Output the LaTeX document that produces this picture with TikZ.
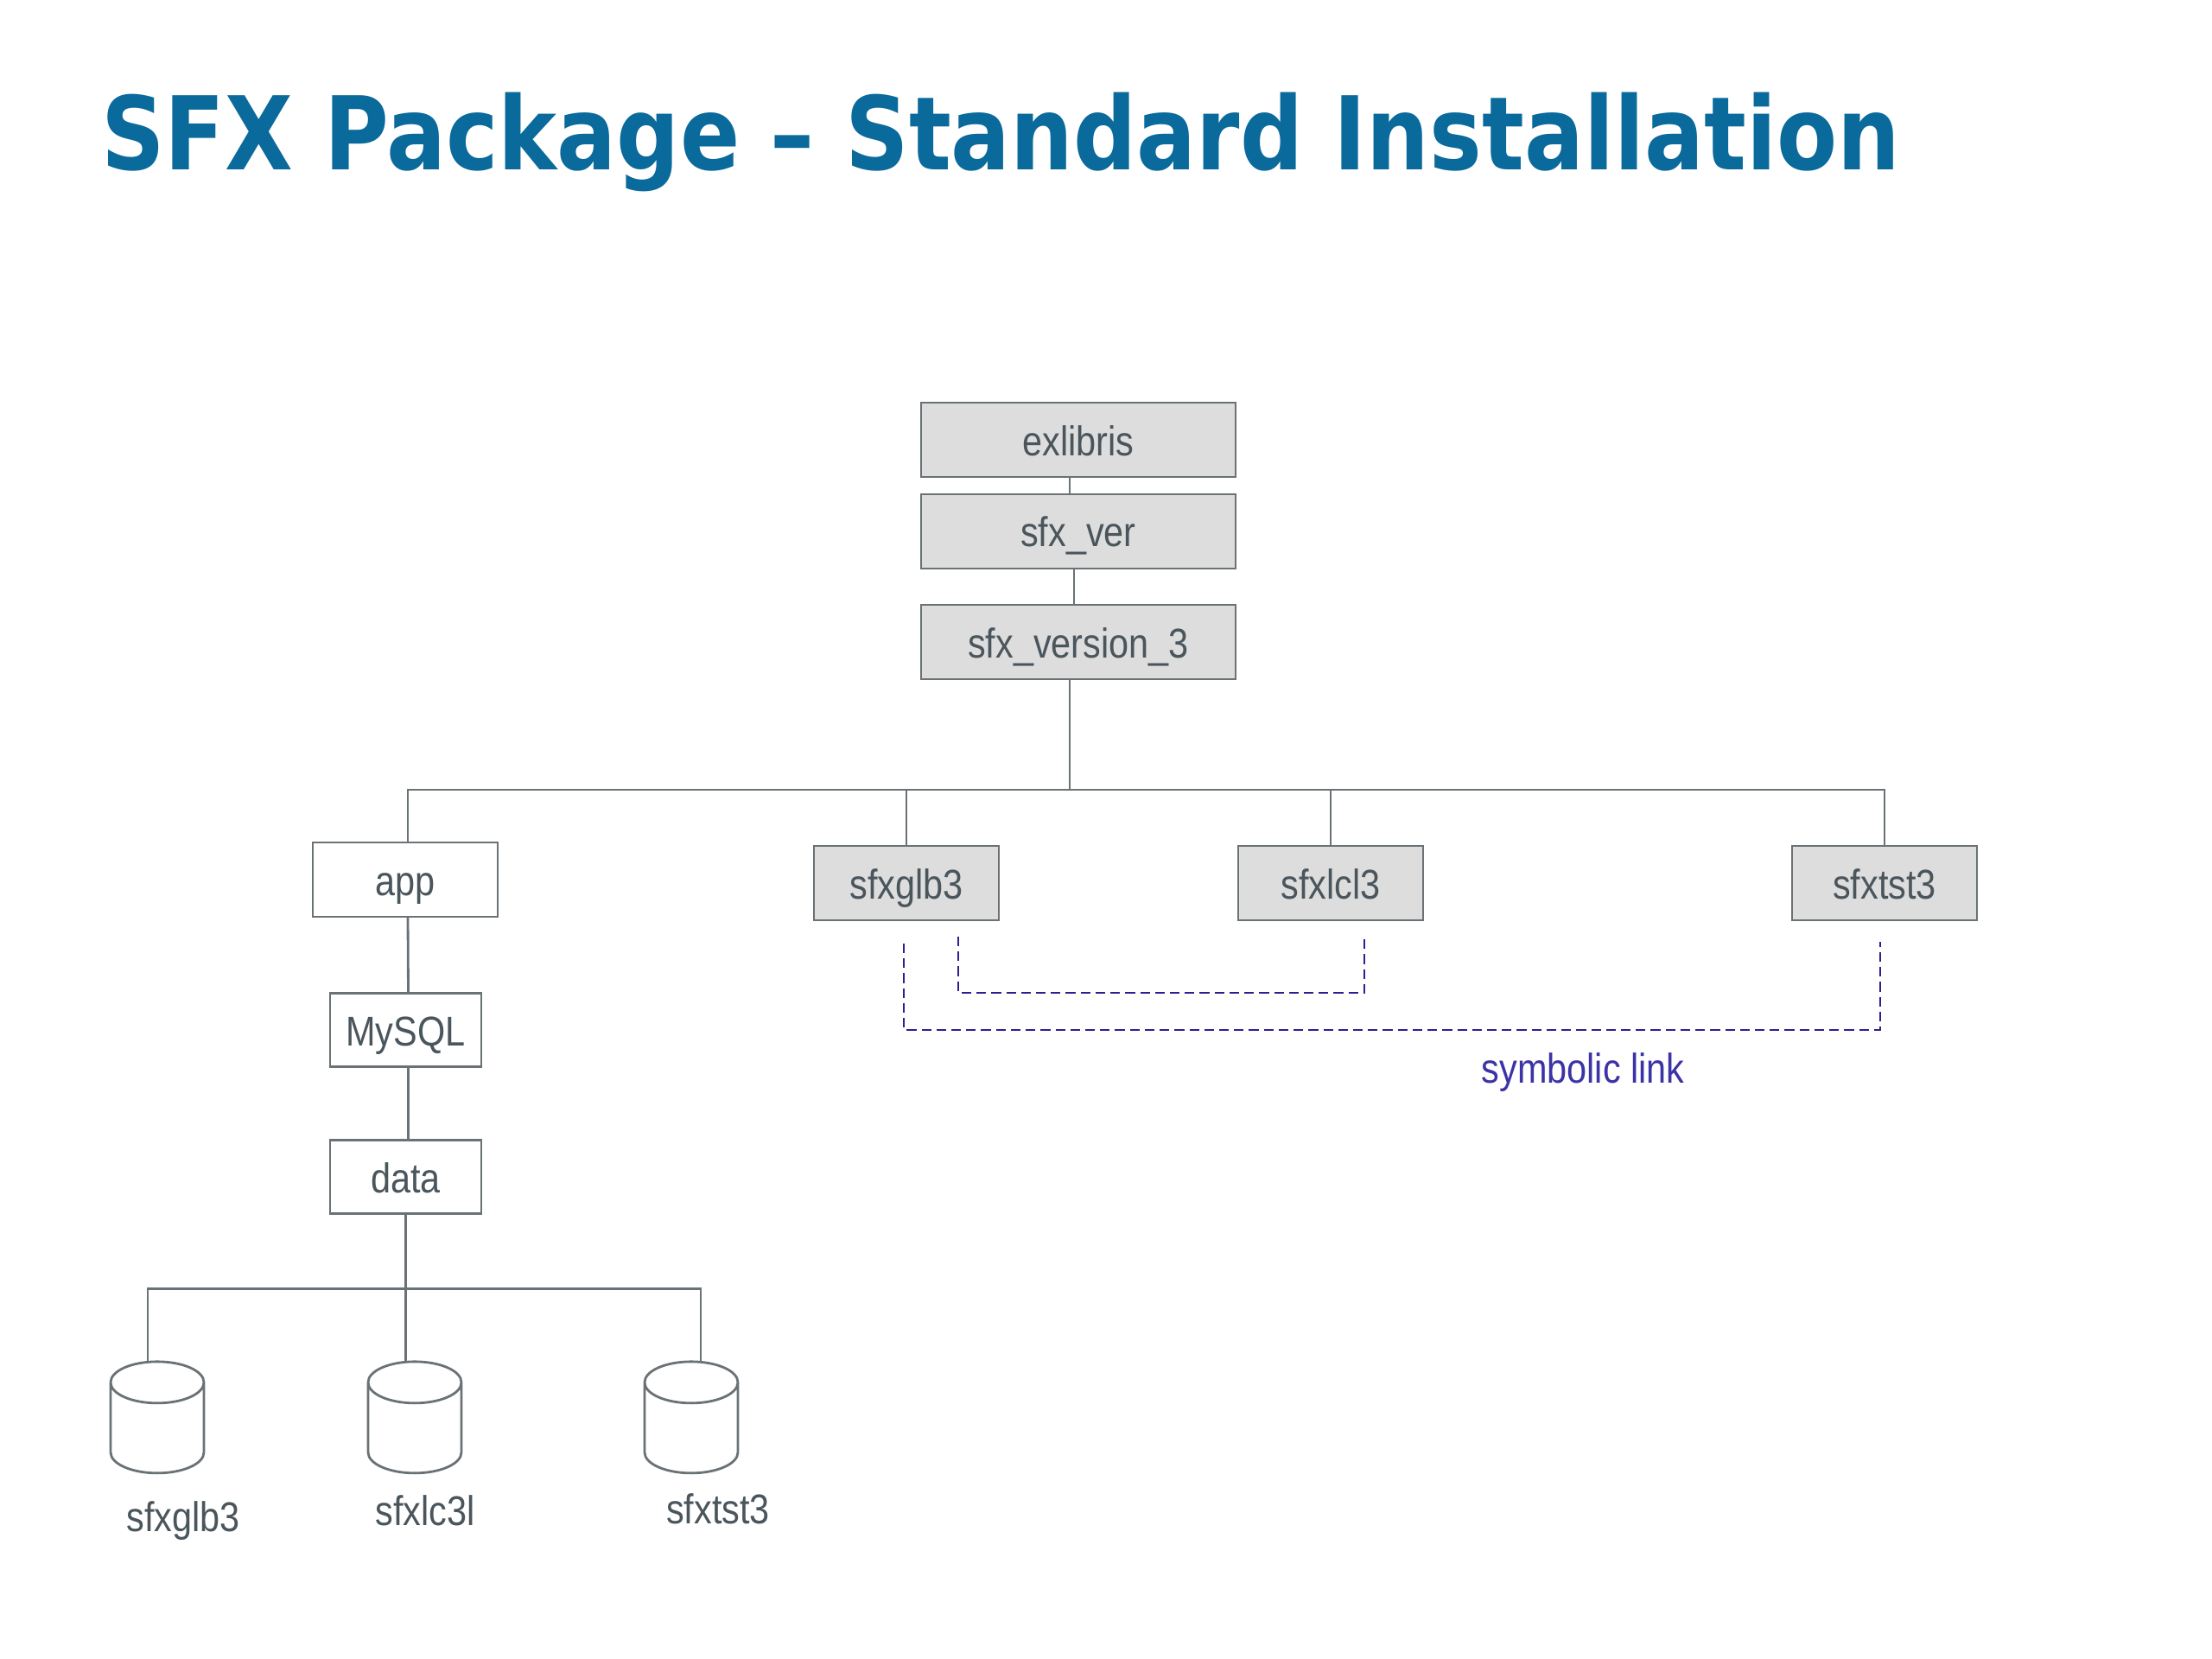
\documentclass[tikz,border=0pt]{standalone}
\usepackage{fontspec}
\usepackage{xcolor}
\setmainfont[FakeStretch=0.86]{Liberation Sans}
\newfontfamily\titlefont[FakeStretch=0.868]{DejaVu Sans}
\usetikzlibrary{shapes.geometric,positioning,calc}
\definecolor{titleblue}{HTML}{0A6A9B}
\definecolor{inkgray}{HTML}{4A555C}
\definecolor{linegray}{HTML}{6A7276}
\definecolor{boxgray}{HTML}{DDDDDD}
\definecolor{linkblue}{HTML}{2A2090}
\definecolor{labelblue}{HTML}{3B33A6}

\begin{document}
\begin{tikzpicture}[line width=0.8pt,node distance = 0.2cm]
\tikzstyle{dirbox}=[draw=linegray,text=inkgray,font=\fontsize{13.7}{16}\selectfont,text height=0.36cm,text depth=0cm,inner sep=0pt,outer sep=0pt]
\tikzstyle{shaded}=[fill=boxgray]
\tikzstyle{wide}=[minimum width=3.64cm,minimum height=0.86cm]
\tikzstyle{mid}=[minimum width=2.14cm,minimum height=0.86cm]
\tikzstyle{small}=[minimum width=1.75cm,minimum height=0.85cm]
\tikzstyle{disk}=[cylinder,shape border rotate=90,shape aspect=2.4,draw=linegray,minimum width=1.08cm,minimum height=1.29cm,inner sep=0.1cm,outer sep=0pt]
\tikzstyle{disklabel}=[text=inkgray,font=\fontsize{13.7}{16}\selectfont,anchor=base]
\tikzstyle{tree}=[draw=linegray]
\tikzstyle{symlink}=[draw=linkblue,dash pattern=on 3.2pt off 1.7pt]

\useasboundingbox (0,0) rectangle (25.6,-19.2);

\node[anchor=base west,text=titleblue,inner sep=0pt,font=\titlefont\bfseries\fontsize{33.5}{40}\selectfont] (title) at (1.16,-1.97) {SFX Package – Standard Installation};

% top of the tree
\node[dirbox,shaded,wide] (exlibris) at (12.48,-5.09) {exlibris};
\node[dirbox,shaded,wide] (sfxver) [below=of exlibris] {sfx\_ver};
\node[dirbox,shaded,wide] (sfxversion) [below=0.42cm of sfxver] {sfx\_version\_3};

\node[dirbox,shaded,mid] (sfxglb) at (10.49,-10.22) {sfxglb3};
\node[dirbox,shaded,mid] (sfxlcl) at (15.40,-10.22) {sfxlcl3};
\node[dirbox,shaded,mid] (sfxtst) at (21.81,-10.22) {sfxtst3};

% left column
\node[dirbox,mid] (app) at (4.69,-10.18) {app};
\node[dirbox,small] (mysql) at (4.695,-11.92) {MySQL};
\node[dirbox,small] (data) at (4.695,-13.62) {data};

\node[disk] (diskglb) at (1.82,-16.60) {};
\node[disk] (disklcl) at (4.80,-16.60) {};
\node[disk] (disktst) at (8.00,-16.60) {};

\node[disklabel] (labelglb) at (2.12,-17.72) {sfxglb3};
\node[disklabel] (labellcl) at (4.92,-17.65) {sfxlc3l};
\node[disklabel] (labeltst) at (8.31,-17.63) {sfxtst3};

\coordinate (bus) at ([xshift=-0.10cm,yshift=-1.28cm]sfxversion.south);
\coordinate (lowbus) at ([yshift=-0.87cm]data.south);

\draw[tree] ([xshift=-0.10cm]exlibris.south) -- ([xshift=-0.10cm]sfxver.north);
\draw[tree] ([xshift=-0.05cm]sfxver.south) -- ([xshift=-0.05cm]sfxversion.north);
\draw[tree] ([xshift=-0.10cm]sfxversion.south) -- (bus);
\draw[tree] ([xshift=0.03cm]app.north) |- (bus) -| (sfxtst.north);
\draw[tree] (sfxglb.north) -- (sfxglb.north |- bus);
\draw[tree] (sfxlcl.north) -- (sfxlcl.north |- bus);

\draw[tree] ([xshift=0.03cm]app.south) -- ([xshift=0.03cm]mysql.north);
\draw[tree] ([xshift=0.03cm]mysql.south) -- ([xshift=0.03cm]data.north);
\draw[tree] (data.south) -- (data.south |- disklcl.north);
\draw[tree] ([xshift=-0.11cm]diskglb.north) |- (lowbus) -| ([xshift=0.11cm]disktst.north);

% symbolic links
\coordinate (glbin) at (11.09,-10.84);
\coordinate (lclin) at (15.79,-10.84);
\coordinate (glbout) at (10.46,-10.92);
\coordinate (tstout) at (21.76,-10.90);
\draw[symlink] (glbin) -- ++(0,-0.65) -| (lclin);
\draw[symlink] (glbout) -- ++(0,-1.00) -| (tstout);
\node[anchor=base,text=labelblue,inner sep=0pt,font=\fontsize{13.7}{16}\selectfont] (linklabel) at (18.32,-12.53) {symbolic link};
\end{tikzpicture}
\end{document}
